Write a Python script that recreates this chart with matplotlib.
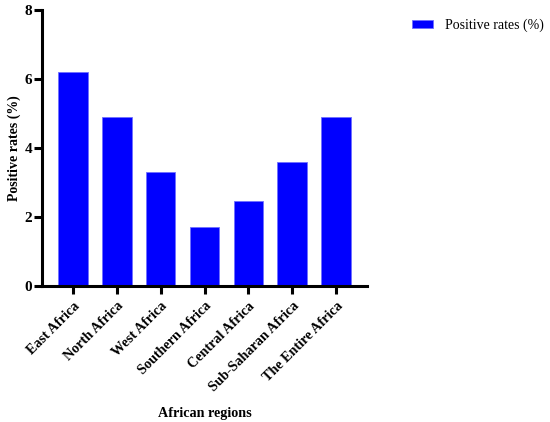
import matplotlib

matplotlib.use("Agg")
import matplotlib.pyplot as plt
import numpy as np

regions = [
    "East Africa",
    "North Africa",
    "West Africa",
    "Southern Africa",
    "Central Africa",
    "Sub-Saharan Africa",
    "The Entire Africa",
]
positive_rates = [6.2, 4.9, 3.3, 1.7, 2.46, 3.6, 4.9]
y_ticks = [0, 2, 4, 6, 8]

plt.rcParams["font.family"] = ["Liberation Serif", "DejaVu Serif"]

fig = plt.figure(figsize=(5.5, 4.22), dpi=100)
ax = fig.add_axes([0.0764, 0.322, 0.591, 0.654])

x = np.arange(len(regions))
ax.bar(x, positive_rates, width=0.67, color="#0000ff", edgecolor="#7070ff",
       linewidth=0.6, label="Positive rates (%)")

ax.set_xlim(-0.71, len(regions) - 1 + 0.71)
ax.set_ylim(0, 8)
ax.set_yticks(y_ticks)
ax.set_xticks(x)
ax.set_xticklabels(regions, rotation=45, ha="right", rotation_mode="anchor",
                   fontweight="bold", fontsize=10.2)
for lab in ax.get_yticklabels():
    lab.set_fontweight("bold")
    lab.set_fontsize(11)

for side in ["top", "right"]:
    ax.spines[side].set_visible(False)
for side in ["left", "bottom"]:
    ax.spines[side].set_linewidth(2.2)
ax.tick_params(axis="both", width=2.2, length=5.5, pad=1.5)
ax.tick_params(axis="x", pad=4)

ax.set_ylabel("Positive rates (%)", fontweight="bold", fontsize=10, labelpad=3)
ax.set_xlabel("African regions", fontweight="bold", fontsize=10.2, labelpad=9)

ax.legend(frameon=False, loc="upper left", bbox_to_anchor=(1.10, 1.015),
          fontsize=10, handlelength=1.5, handleheight=0.5, handletextpad=0.9)

fig.savefig("out.png", dpi=100)
